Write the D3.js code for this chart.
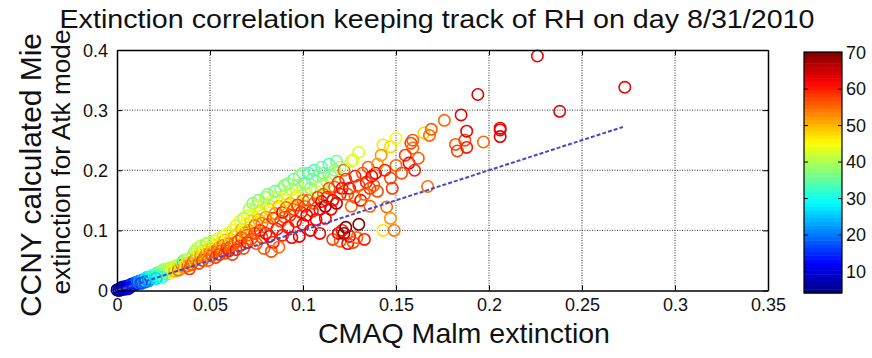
<!DOCTYPE html>
<html><head><meta charset="utf-8">
<script src="https://cdn.jsdelivr.net/npm/d3@7"></script>
<style>body{margin:0;background:#fff}svg{display:block}</style>
</head><body><svg id="c" width="872" height="358"></svg>
<script>
const titleText = "Extinction correlation keeping track of RH on day 8/31/2010";
const xLabel = "CMAQ Malm extinction";
const yLabel1 = "CCNY calculated Mie";
const yLabel2 = "extinction for Atk mode";
const xTicks = [0, 0.05, 0.1, 0.15, 0.2, 0.25, 0.3, 0.35];
const xTickLabels = ["0", "0.05", "0.1", "0.15", "0.2", "0.25", "0.3", "0.35"];
const yTicks = [0, 0.1, 0.2, 0.3, 0.4];
const yTickLabels = ["0", "0.1", "0.2", "0.3", "0.4"];
const cbTicks = [10, 20, 30, 40, 50, 60, 70];
const cbDomain = [4, 70];
// 1:1 reference line
const refX = [0, 0.272];
const refY = [0, 0.272];
// scatter points: [CMAQ extinction, CCNY extinction, RH]
const points = [
[0.000,0.001,5],[0.001,0.002,6],[0.002,0.001,7],[0.002,0.004,8],[0.003,0.003,6],[0.004,0.005,9],[0.003,0.006,10],[0.005,0.004,8],[0.005,0.007,11],[0.006,0.006,12],[0.007,0.009,13],[0.008,0.008,14],[0.008,0.011,15],[0.009,0.010,16],[0.010,0.013,17],[0.011,0.012,18],[0.001,0.000,4],[0.004,0.002,7],[0.006,0.003,9],[0.007,0.005,12],
[0.010,0.010,14],[0.011,0.014,18],[0.012,0.013,20],[0.012,0.016,22],[0.013,0.015,20],[0.014,0.018,24],[0.015,0.017,26],[0.016,0.020,25],[0.016,0.022,28],[0.017,0.019,24],[0.018,0.023,30],[0.018,0.021,27],[0.019,0.025,32],[0.019,0.022,30],[0.013,0.012,16],[0.015,0.014,18],[0.017,0.016,22],
[0.020,0.024,30],[0.021,0.027,33],[0.022,0.023,28],[0.022,0.030,35],[0.023,0.026,32],[0.024,0.032,36],[0.025,0.028,34],[0.025,0.035,38],[0.026,0.031,37],[0.027,0.036,40],[0.027,0.027,35],[0.028,0.033,42],[0.029,0.038,40],[0.029,0.030,45],[0.030,0.035,43],[0.021,0.020,26],[0.024,0.022,30],
[0.031,0.040,42],[0.031,0.032,50],[0.032,0.037,46],[0.033,0.043,40],[0.033,0.034,55],[0.034,0.040,48],[0.035,0.042,57],[0.035,0.046,38],[0.036,0.038,52],[0.036,0.050,36],[0.037,0.044,47],[0.038,0.041,55],[0.038,0.052,40],[0.039,0.047,50],[0.039,0.036,58],[0.040,0.055,42],[0.040,0.043,56],
[0.041,0.060,40],[0.041,0.048,55],[0.042,0.065,38],[0.042,0.052,53],[0.043,0.056,50],[0.043,0.070,42],[0.044,0.045,57],[0.044,0.062,46],[0.045,0.058,52],[0.045,0.074,40],[0.046,0.050,58],[0.046,0.066,48],[0.047,0.072,44],[0.047,0.055,55],[0.048,0.078,38],[0.048,0.060,53],[0.049,0.068,47],[0.049,0.050,56],[0.050,0.063,54],[0.050,0.080,42],
[0.051,0.058,56],[0.051,0.070,50],[0.052,0.082,40],[0.052,0.064,55],[0.053,0.075,48],[0.053,0.055,58],[0.054,0.068,57],[0.054,0.086,44],[0.055,0.072,53],[0.055,0.060,60],[0.056,0.080,47],[0.056,0.066,56],[0.057,0.090,42],[0.057,0.075,55],[0.058,0.062,57],[0.058,0.084,50],[0.059,0.070,58],[0.059,0.094,45],[0.060,0.078,54],[0.060,0.066,60],
[0.061,0.085,48],[0.061,0.072,56],[0.062,0.100,44],[0.062,0.060,58],[0.063,0.090,50],[0.063,0.078,55],[0.064,0.108,42],[0.064,0.068,60],[0.065,0.095,47],[0.065,0.082,57],[0.066,0.115,45],[0.066,0.074,56],[0.067,0.102,50],[0.067,0.088,58],[0.068,0.120,40],[0.068,0.070,57],[0.069,0.096,53],[0.069,0.110,46],[0.070,0.080,62],[0.070,0.124,43],[0.070,0.092,56],
[0.071,0.135,40],[0.071,0.100,52],[0.072,0.115,48],[0.072,0.085,57],[0.073,0.145,38],[0.073,0.125,45],[0.074,0.095,58],[0.074,0.108,55],[0.075,0.140,42],[0.075,0.078,56],[0.076,0.118,50],[0.076,0.150,37],[0.077,0.100,60],[0.077,0.130,47],[0.078,0.088,57],[0.078,0.112,54],[0.079,0.145,43],[0.079,0.070,56],[0.080,0.122,52],[0.080,0.095,61],[0.080,0.155,39],
[0.081,0.160,38],[0.081,0.110,55],[0.082,0.135,48],[0.082,0.090,62],[0.083,0.065,57],[0.083,0.148,44],[0.084,0.120,58],[0.084,0.080,60],[0.085,0.165,36],[0.085,0.128,53],[0.086,0.102,60],[0.086,0.155,42],[0.087,0.072,55],[0.087,0.140,50],[0.088,0.115,57],[0.088,0.168,38],[0.089,0.130,63],[0.089,0.092,60],[0.090,0.150,46],[0.090,0.122,56],[0.090,0.175,37],
[0.091,0.160,42],[0.091,0.138,55],[0.092,0.105,61],[0.092,0.178,38],[0.093,0.145,50],[0.093,0.125,58],[0.094,0.168,40],[0.094,0.088,62],[0.095,0.135,57],[0.095,0.185,36],[0.096,0.155,47],[0.096,0.115,60],[0.097,0.175,41],[0.097,0.142,58],[0.098,0.090,63],[0.098,0.190,38],[0.099,0.130,60],[0.099,0.165,45],[0.100,0.150,55],[0.100,0.195,37],[0.100,0.110,62],
[0.101,0.178,35],[0.101,0.140,58],[0.102,0.160,40],[0.102,0.125,62],[0.103,0.195,33],[0.103,0.150,57],[0.104,0.170,38],[0.104,0.100,63],[0.105,0.132,60],[0.105,0.185,36],[0.106,0.145,56],[0.106,0.200,34],[0.107,0.118,62],[0.107,0.165,42],[0.108,0.155,58],[0.108,0.190,37],[0.109,0.135,61],[0.109,0.095,62],[0.110,0.175,40],[0.110,0.148,63],[0.110,0.205,35],
[0.111,0.160,55],[0.111,0.195,36],[0.112,0.140,69],[0.112,0.120,62],[0.113,0.180,40],[0.113,0.155,60],[0.114,0.210,34],[0.114,0.170,57],[0.115,0.135,63],[0.115,0.190,38],[0.116,0.150,62],[0.116,0.085,58],[0.117,0.200,37],[0.117,0.172,55],[0.118,0.145,66],[0.118,0.215,36],[0.119,0.180,58],[0.119,0.095,63],[0.120,0.160,60],[0.120,0.205,40],[0.120,0.082,56],
[0.121,0.170,62],[0.121,0.100,60],[0.122,0.200,55],[0.122,0.095,69],[0.123,0.105,70],[0.123,0.185,58],[0.124,0.078,62],[0.124,0.160,57],[0.125,0.170,63],[0.125,0.090,63],[0.126,0.215,42],[0.126,0.140,55],[0.127,0.217,44],[0.127,0.080,57],[0.128,0.190,60],[0.128,0.155,56],[0.129,0.088,55],[0.130,0.110,69],[0.130,0.230,43],[0.130,0.175,58],
[0.131,0.150,62],[0.132,0.195,57],[0.133,0.160,55],[0.133,0.085,60],[0.134,0.180,60],[0.135,0.205,56],[0.136,0.170,58],[0.136,0.140,55],[0.137,0.190,62],[0.138,0.175,56],[0.139,0.195,63],[0.140,0.165,57],[0.140,0.210,52],
[0.143,0.242,47],[0.147,0.239,48],[0.150,0.253,44],[0.150,0.208,55],[0.147,0.187,57],[0.142,0.225,52],[0.145,0.139,55],[0.147,0.120,52],[0.143,0.100,47],[0.149,0.100,54],[0.144,0.200,60],[0.148,0.170,58],
[0.159,0.250,56],[0.165,0.262,48],[0.168,0.258,55],[0.169,0.268,56],[0.176,0.283,55],[0.158,0.245,57],[0.159,0.237,55],[0.155,0.225,58],[0.157,0.212,62],[0.162,0.220,56],[0.167,0.173,55],[0.153,0.195,57],[0.160,0.200,60],
[0.182,0.243,56],[0.187,0.250,57],[0.185,0.292,63],[0.188,0.265,63],[0.194,0.326,64],[0.197,0.247,55],[0.206,0.270,63],[0.206,0.267,62],[0.206,0.256,64],[0.183,0.232,58],[0.188,0.238,60],
[0.226,0.390,63],[0.273,0.338,63],[0.238,0.298,63]
];

function jet(t){
  t = Math.max(0, Math.min(1, t));
  const c = v => Math.max(0, Math.min(1, v));
  const r = c(1.5 - Math.abs(4*t - 3)), g = c(1.5 - Math.abs(4*t - 2)), b = c(1.5 - Math.abs(4*t - 1));
  return d3.rgb(r*255, g*255, b*255).toString();
}

const svg = d3.select("#c");
const L = 117, R = 768, T = 50, B = 290.5;
const x = d3.scaleLinear().domain([0, 0.35]).range([L, R]);
const y = d3.scaleLinear().domain([0, 0.4]).range([B, T]);
const cNorm = d3.scaleLinear().domain(cbDomain).range([0, 1]).clamp(true);
const color = v => jet(cNorm(v));

// grid
const g = svg.append("g");
g.selectAll("line.gx").data(xTicks.slice(1, -1)).join("line")
  .attr("x1", d => x(d)).attr("x2", d => x(d)).attr("y1", T).attr("y2", B)
  .attr("stroke", "#333").attr("stroke-width", 1).attr("stroke-dasharray", "1,1.5");
g.selectAll("line.gy").data(yTicks.slice(1, -1)).join("line")
  .attr("y1", d => y(d)).attr("y2", d => y(d)).attr("x1", L).attr("x2", R)
  .attr("stroke", "#333").attr("stroke-width", 1).attr("stroke-dasharray", "1,1.5");

// points
svg.append("g").selectAll("circle").data(points).join("circle")
  .attr("cx", d => x(d[0])).attr("cy", d => y(d[1])).attr("r", 5.7)
  .attr("fill", "none").attr("stroke", d => color(d[2])).attr("stroke-width", 1.6);

// reference line
svg.append("path").datum(refX.map((v, i) => [v, refY[i]]))
  .attr("d", d3.line().x(d => x(d[0])).y(d => y(d[1])))
  .attr("fill", "none").attr("stroke", "#4b46c4").attr("stroke-width", 2).attr("stroke-dasharray", "4,2");

// axes
const font = "'Liberation Sans', Arial, sans-serif";
const ax = svg.append("g").attr("transform", `translate(0,${B})`)
  .call(d3.axisBottom(x).tickValues(xTicks).tickFormat((d, i) => xTickLabels[i]).tickSizeInner(-5).tickSizeOuter(0).tickPadding(8));
const axt = svg.append("g").attr("transform", `translate(0,${T})`)
  .call(d3.axisTop(x).tickValues(xTicks).tickFormat("").tickSizeInner(-5).tickSizeOuter(0));
const ay = svg.append("g").attr("transform", `translate(${L},0)`)
  .call(d3.axisLeft(y).tickValues(yTicks).tickFormat((d, i) => yTickLabels[i]).tickSizeInner(-5).tickSizeOuter(0).tickPadding(9));
const ayr = svg.append("g").attr("transform", `translate(${R},0)`)
  .call(d3.axisRight(y).tickValues(yTicks).tickFormat("").tickSizeInner(-5).tickSizeOuter(0));
[ax, axt, ay, ayr].forEach(a => {
  a.select(".domain").attr("stroke", "#000").attr("stroke-width", 1.5);
  a.selectAll(".tick line").attr("stroke", "#000").attr("stroke-width", 1);
  a.selectAll("text").attr("font-family", font).attr("font-size", 18).attr("fill", "#111");
});
ax.selectAll("text").attr("dy", "0.71em");
ay.selectAll("text").attr("dy", "0.35em");

// title & labels
svg.append("text").attr("x", 437).attr("y", 28).attr("text-anchor", "middle")
  .attr("font-family", font).attr("font-size", 25).attr("fill", "#111")
  .attr("textLength", 755).attr("lengthAdjust", "spacingAndGlyphs").text(titleText);
svg.append("text").attr("x", 464).attr("y", 343).attr("text-anchor", "middle")
  .attr("font-family", font).attr("font-size", 28).attr("fill", "#111")
  .attr("textLength", 292).attr("lengthAdjust", "spacingAndGlyphs").text(xLabel);
svg.append("text").attr("transform", "translate(41,175) rotate(-90)").attr("text-anchor", "middle")
  .attr("font-family", font).attr("font-size", 29).attr("fill", "#111")
  .attr("textLength", 284).attr("lengthAdjust", "spacingAndGlyphs").text(yLabel1);
svg.append("text").attr("transform", "translate(70,162) rotate(-90)").attr("text-anchor", "middle")
  .attr("font-family", font).attr("font-size", 26).attr("fill", "#111")
  .attr("textLength", 265).attr("lengthAdjust", "spacingAndGlyphs").text(yLabel2);

// colorbar
const CL = 804, CR = 842, CT = 52, CB = 293;
const cy = d3.scaleLinear().domain(cbDomain).range([CB, CT]);
const nBands = 64;
const bands = d3.range(nBands);
const cbg = svg.append("g");
cbg.selectAll("rect").data(bands).join("rect")
  .attr("x", CL).attr("width", CR - CL)
  .attr("y", i => cy(cbDomain[0] + (i + 1) * (cbDomain[1] - cbDomain[0]) / nBands))
  .attr("height", i => cy(cbDomain[0] + i * (cbDomain[1] - cbDomain[0]) / nBands) - cy(cbDomain[0] + (i + 1) * (cbDomain[1] - cbDomain[0]) / nBands) + 0.5)
  .attr("fill", i => jet((i + 0.5) / nBands));
cbg.append("rect").attr("x", CL).attr("y", CT).attr("width", CR - CL).attr("height", CB - CT)
  .attr("fill", "none").attr("stroke", "#000").attr("stroke-width", 1.2);
const cax = svg.append("g").attr("transform", `translate(${CR},0)`)
  .call(d3.axisRight(cy).tickValues(cbTicks).tickSizeInner(-4).tickSizeOuter(0).tickPadding(4));
cax.select(".domain").remove();
cax.selectAll(".tick line").attr("stroke", "#000");
cax.selectAll("text").attr("font-family", font).attr("font-size", 18).attr("fill", "#111").attr("dy", "0.35em");
svg.append("g").attr("transform", `translate(${CL},0)`)
  .call(d3.axisLeft(cy).tickValues(cbTicks).tickFormat("").tickSizeInner(-4).tickSizeOuter(0))
  .call(a => { a.select(".domain").remove(); a.selectAll(".tick line").attr("stroke", "#000"); });
</script></body></html>
